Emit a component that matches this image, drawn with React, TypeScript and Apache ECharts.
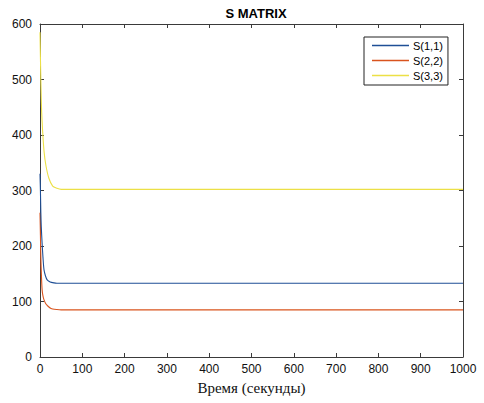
import React, { useEffect, useRef } from "react";
import * as echarts from "echarts";

const seriesNames = ["S(1,1)", "S(2,2)", "S(3,3)"];
const seriesColors = ["#1f4f96", "#d9541e", "#ece046"];

const s11X = [0, 1, 2, 3, 5, 7, 9.5, 13, 17, 22, 27, 33, 40, 50, 100, 1000];
const s11Y = [330, 300, 260, 235, 205, 180, 157, 146, 139, 136, 134.5, 133.5, 133, 133, 133, 133];

const s22X = [0, 1, 2, 3, 5, 7, 9.5, 13, 17, 21, 25, 30, 40, 50, 100, 1000];
const s22Y = [260, 220, 180, 155, 121, 110, 103, 97, 93, 90, 88, 86.5, 85.5, 85, 85, 85];

const s33X = [0, 1, 2, 3, 4, 6, 9.5, 14, 21, 30, 40, 50, 100, 1000];
const s33Y = [585, 540, 500, 465, 440, 410, 371, 345, 322, 308, 304, 302, 302, 302];

const xTicks = [0, 100, 200, 300, 400, 500, 600, 700, 800, 900, 1000];
const yTicks = [0, 100, 200, 300, 400, 500, 600];

const xs = [s11X, s22X, s33X];
const ys = [s11Y, s22Y, s33Y];

export default function App() {
  const ref = useRef<HTMLDivElement>(null);
  useEffect(() => {
    if (!ref.current) return;
    const chart = echarts.init(ref.current, undefined, { renderer: "svg" });
    const axisColor = "#3a3a3a";
    const labelFont = { fontFamily: "Liberation Sans, Arial, sans-serif", fontSize: 12, color: "#111" };
    chart.setOption({
      animation: false,
      backgroundColor: "#ffffff",
      title: {
        text: "S MATRIX",
        left: 251,
        textAlign: "center",
        top: 2,
        textStyle: { fontFamily: "Liberation Sans, Arial, sans-serif", fontSize: 13, fontWeight: "bold", color: "#000" },
      },
      grid: { left: 40, right: 21, top: 24, bottom: 46, containLabel: false },
      legend: {
        data: seriesNames,
        orient: "vertical",
        left: 364,
        top: 37,
        backgroundColor: "#fff",
        borderColor: "#222",
        borderWidth: 1,
        borderRadius: 0,
        padding: [3, 5, 4, 8],
        itemGap: 4,
        itemWidth: 37,
        itemHeight: 1.5,
        icon: "rect",
        textStyle: { fontFamily: "Liberation Sans, Arial, sans-serif", fontSize: 11, color: "#000", padding: [0, 0, 0, -1] },
      },
      xAxis: [
        {
          type: "value",
          min: xTicks[0],
          max: xTicks[xTicks.length - 1],
          interval: 100,
          name: "Время (секунды)",
          nameLocation: "middle",
          nameGap: 23,
          nameTextStyle: { fontFamily: "Liberation Serif, Times New Roman, serif", fontSize: 15, color: "#111" },
          axisLine: { show: true, lineStyle: { color: axisColor, width: 1 } },
          axisTick: { show: true, inside: true, length: 4, lineStyle: { color: axisColor } },
          axisLabel: { ...labelFont, margin: 6, formatter: (v: number) => String(v) },
          splitLine: { show: false },
        },
        {
          type: "value",
          position: "top",
          min: xTicks[0],
          max: xTicks[xTicks.length - 1],
          interval: 100,
          axisLine: { show: true, onZero: false, lineStyle: { color: axisColor, width: 1 } },
          axisTick: { show: true, inside: true, length: 4, lineStyle: { color: axisColor } },
          axisLabel: { show: false },
          splitLine: { show: false },
        },
      ],
      yAxis: [
        {
          type: "value",
          min: yTicks[0],
          max: yTicks[yTicks.length - 1],
          interval: 100,
          axisLine: { show: true, onZero: false, lineStyle: { color: axisColor, width: 1 } },
          axisTick: { show: true, inside: true, length: 4, lineStyle: { color: axisColor } },
          axisLabel: { ...labelFont, margin: 8, formatter: (v: number) => String(v) },
          splitLine: { show: false },
        },
        {
          type: "value",
          position: "right",
          min: yTicks[0],
          max: yTicks[yTicks.length - 1],
          interval: 100,
          axisLine: { show: true, onZero: false, lineStyle: { color: axisColor, width: 1 } },
          axisTick: { show: true, inside: true, length: 4, lineStyle: { color: axisColor } },
          axisLabel: { show: false },
          splitLine: { show: false },
        },
      ],
      series: seriesNames.map((name, i) => ({
        name,
        type: "line",
        xAxisIndex: 0,
        yAxisIndex: 0,
        showSymbol: false,
        symbol: "none",
        smooth: 0.3,
        color: seriesColors[i],
        lineStyle: { color: seriesColors[i], width: 1.1 },
        data: xs[i].map((x, j) => [x, ys[i][j]]),
        z: 3 - i,
      })),
    });
    return () => chart.dispose();
  }, []);
  return <div ref={ref} style={{ width: 484, height: 403, position: "absolute", left: 0, top: 0 }} />;
}
